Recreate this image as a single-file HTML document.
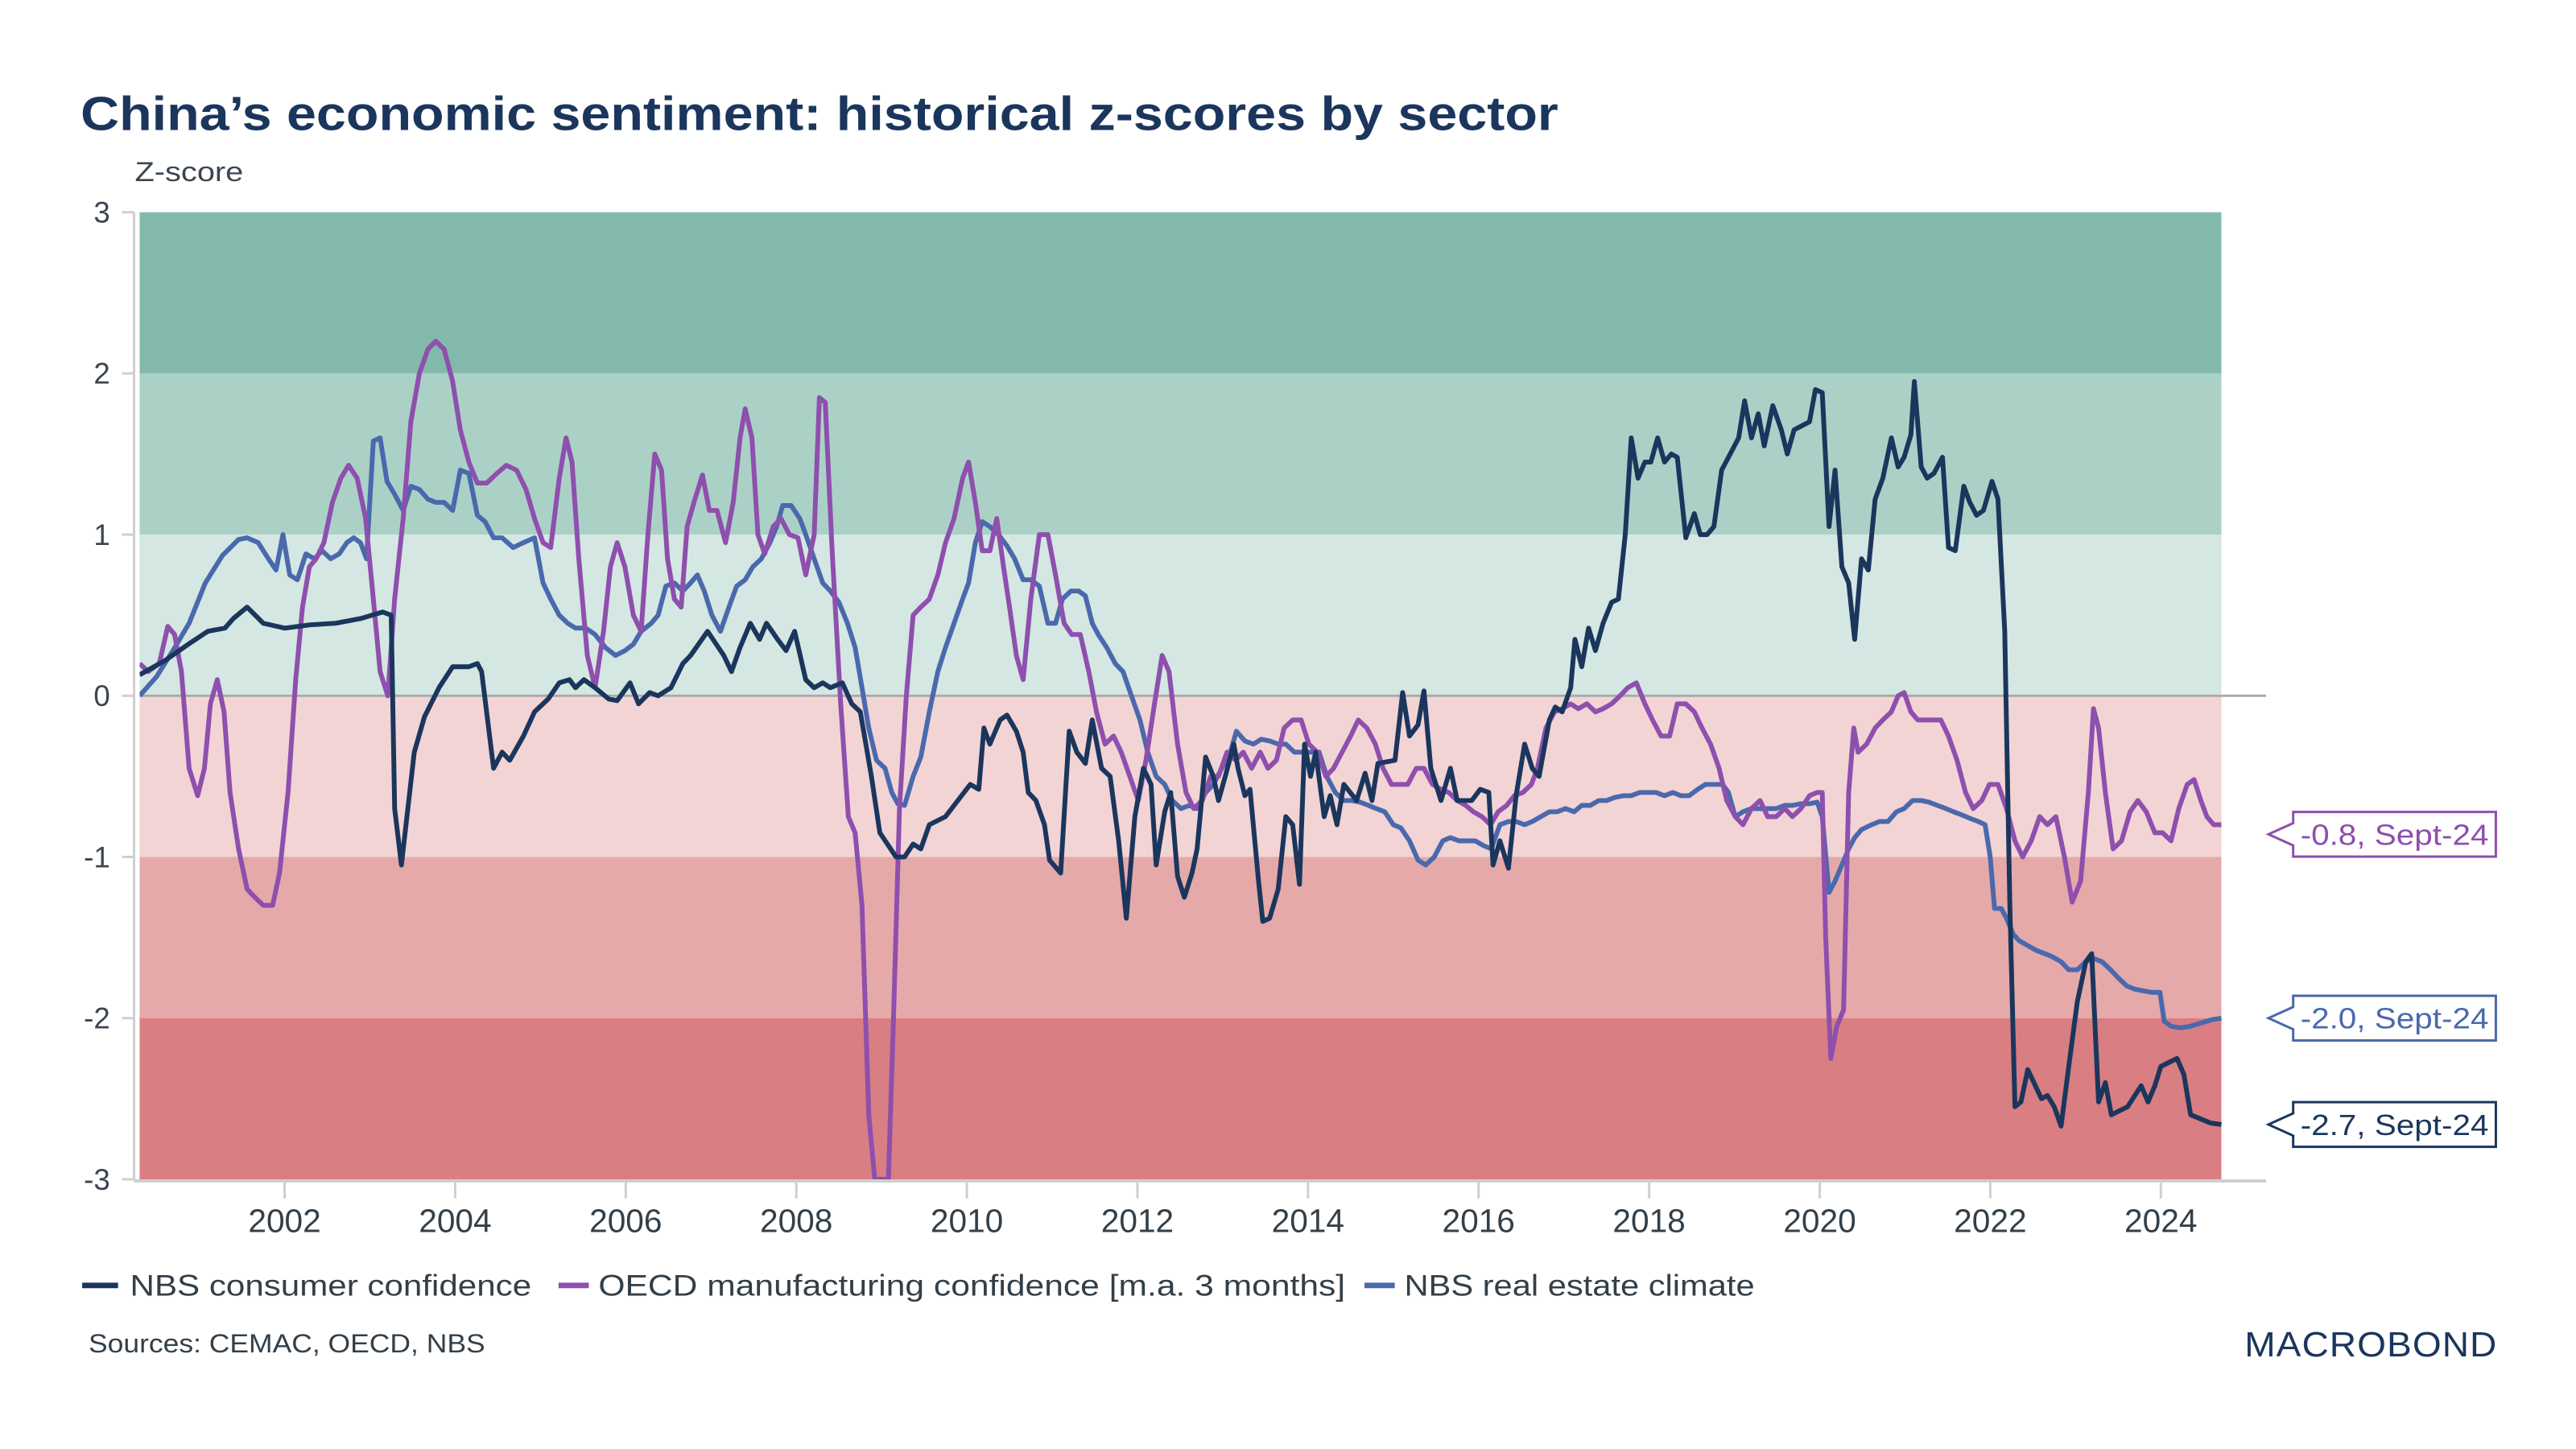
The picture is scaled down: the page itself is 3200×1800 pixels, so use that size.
<!DOCTYPE html>
<html><head><meta charset="utf-8"><style>
html,body{margin:0;padding:0;background:#fff;}
svg{display:block;font-family:"Liberation Sans",sans-serif;}
</style></head><body>
<svg id="chart" width="3200" height="1800" viewBox="0 0 3228 1816" preserveAspectRatio="xMinYMin meet" xmlns="http://www.w3.org/2000/svg">
<text x="101" y="163" font-size="60" font-weight="bold" fill="#1b365d" textLength="1852" lengthAdjust="spacingAndGlyphs">China’s economic sentiment: historical z-scores by sector</text>
<text x="169" y="227" font-size="35" fill="#3c4650" textLength="136" lengthAdjust="spacingAndGlyphs">Z-score</text>
<g id="bands"></g>
<g id="axes"></g>
<g id="series"></g>
<g id="callouts"></g>
<g>
<line x1="103" y1="1611" x2="148" y2="1611" stroke="#1b365d" stroke-width="7"/>
<text x="163" y="1624" font-size="37" fill="#333f48" textLength="503" lengthAdjust="spacingAndGlyphs">NBS consumer confidence</text>
<line x1="700" y1="1611" x2="738" y2="1611" stroke="#8e4fad" stroke-width="7"/>
<text x="750" y="1624" font-size="37" fill="#333f48" textLength="936" lengthAdjust="spacingAndGlyphs">OECD manufacturing confidence [m.a. 3 months]</text>
<line x1="1710" y1="1611" x2="1748" y2="1611" stroke="#4a69ad" stroke-width="7"/>
<text x="1760" y="1624" font-size="37" fill="#333f48" textLength="439" lengthAdjust="spacingAndGlyphs">NBS real estate climate</text>
</g>
<text x="111" y="1695" font-size="33" fill="#333f48" textLength="497" lengthAdjust="spacingAndGlyphs">Sources: CEMAC, OECD, NBS</text>
<g>
<text x="2813" y="1700" font-size="44" fill="#1b365d" textLength="317" lengthAdjust="spacingAndGlyphs" letter-spacing="1">MACROBOND</text>
</g>
</svg>
<script>
// ---- data ----
const bandEdges = [3, 2, 1, 0, -1, -2, -3];
const bandColors = ["#83b9ab", "#abd1c7", "#d4e7e2", "#f2d4d5", "#e5a9aa", "#d97e82"];
const yTicks = [3, 2, 1, 0, -1, -2, -3];
const yTickLabels = ["3", "2", "1", "0", "-1", "-2", "-3"];
const xTicks = [2002, 2004, 2006, 2008, 2010, 2012, 2014, 2016, 2018, 2020, 2022, 2024];
const xTickLabels = ["2002","2004","2006","2008","2010","2012","2014","2016","2018","2020","2022","2024"];

const consumerDates = [2000.30,2000.6,2000.9,2001.1,2001.3,2001.4,2001.56,2001.75,2002.0,2002.3,2002.6,2002.9,2003.15,2003.25,2003.29,2003.37,2003.52,2003.64,2003.81,2003.97,2004.16,2004.26,2004.31,2004.45,2004.55,2004.64,2004.8,2004.93,2005.09,2005.22,2005.34,2005.41,2005.51,2005.64,2005.8,2005.9,2006.05,2006.15,2006.28,2006.38,2006.53,2006.67,2006.76,2006.96,2007.15,2007.24,2007.34,2007.46,2007.57,2007.65,2007.78,2007.88,2007.98,2008.11,2008.21,2008.31,2008.4,2008.54,2008.65,2008.75,2008.88,2008.98,2009.17,2009.27,2009.37,2009.46,2009.56,2009.75,2009.85,2010.04,2010.14,2010.2,2010.27,2010.39,2010.47,2010.58,2010.66,2010.72,2010.81,2010.91,2010.97,2011.1,2011.2,2011.29,2011.39,2011.47,2011.58,2011.68,2011.78,2011.87,2011.97,2012.07,2012.16,2012.22,2012.32,2012.39,2012.47,2012.55,2012.64,2012.7,2012.8,2012.89,2012.95,2013.03,2013.13,2013.18,2013.26,2013.32,2013.42,2013.47,2013.55,2013.65,2013.74,2013.82,2013.9,2013.96,2014.03,2014.09,2014.19,2014.26,2014.34,2014.42,2014.57,2014.67,2014.75,2014.82,2015.02,2015.11,2015.19,2015.29,2015.36,2015.44,2015.56,2015.67,2015.75,2015.92,2016.02,2016.12,2016.17,2016.25,2016.35,2016.44,2016.54,2016.63,2016.71,2016.83,2016.9,2016.98,2017.08,2017.13,2017.21,2017.29,2017.37,2017.46,2017.56,2017.64,2017.72,2017.79,2017.87,2017.95,2018.02,2018.1,2018.18,2018.26,2018.33,2018.43,2018.53,2018.6,2018.68,2018.76,2018.85,2018.95,2019.05,2019.12,2019.2,2019.28,2019.35,2019.45,2019.55,2019.62,2019.7,2019.88,2019.95,2020.03,2020.11,2020.18,2020.26,2020.34,2020.41,2020.49,2020.57,2020.65,2020.74,2020.84,2020.92,2020.99,2021.07,2021.11,2021.19,2021.26,2021.34,2021.44,2021.51,2021.59,2021.69,2021.76,2021.84,2021.92,2022.02,2022.09,2022.17,2022.23,2022.29,2022.36,2022.44,2022.6,2022.67,2022.75,2022.83,2022.92,2023.02,2023.12,2023.19,2023.27,2023.35,2023.42,2023.61,2023.77,2023.85,2023.93,2024.0,2024.19,2024.27,2024.35,2024.58,2024.71];
const consumerValues = [0.13,0.22,0.33,0.4,0.42,0.48,0.55,0.45,0.42,0.44,0.45,0.48,0.52,0.5,-0.7,-1.05,-0.35,-0.13,0.05,0.18,0.18,0.2,0.15,-0.45,-0.35,-0.4,-0.25,-0.1,-0.02,0.08,0.1,0.05,0.1,0.05,-0.02,-0.03,0.08,-0.05,0.02,0,0.05,0.2,0.25,0.4,0.25,0.15,0.3,0.45,0.35,0.45,0.35,0.28,0.4,0.1,0.05,0.08,0.05,0.08,-0.05,-0.1,-0.5,-0.85,-1.0,-1.0,-0.92,-0.95,-0.8,-0.75,-0.68,-0.55,-0.58,-0.2,-0.3,-0.15,-0.12,-0.22,-0.35,-0.6,-0.65,-0.8,-1.02,-1.1,-0.22,-0.35,-0.42,-0.15,-0.45,-0.5,-0.9,-1.38,-0.75,-0.45,-0.55,-1.05,-0.72,-0.6,-1.12,-1.25,-1.1,-0.95,-0.38,-0.5,-0.65,-0.5,-0.3,-0.45,-0.62,-0.58,-1.15,-1.4,-1.38,-1.2,-0.75,-0.8,-1.17,-0.3,-0.5,-0.35,-0.75,-0.62,-0.8,-0.55,-0.65,-0.48,-0.65,-0.42,-0.4,0.02,-0.25,-0.18,0.03,-0.45,-0.65,-0.45,-0.65,-0.65,-0.58,-0.6,-1.05,-0.9,-1.07,-0.62,-0.3,-0.45,-0.5,-0.15,-0.07,-0.1,0.05,0.35,0.18,0.42,0.28,0.45,0.58,0.6,1.0,1.6,1.35,1.45,1.45,1.6,1.45,1.5,1.48,0.98,1.13,1.0,1.0,1.05,1.4,1.5,1.6,1.83,1.6,1.75,1.55,1.8,1.65,1.5,1.65,1.7,1.9,1.88,1.05,1.4,0.8,0.7,0.35,0.85,0.78,1.22,1.35,1.6,1.42,1.48,1.62,1.95,1.42,1.35,1.38,1.48,0.92,0.9,1.3,1.2,1.12,1.15,1.33,1.22,0.4,-1.3,-2.55,-2.52,-2.32,-2.5,-2.48,-2.55,-2.67,-2.3,-1.9,-1.65,-1.6,-2.52,-2.4,-2.6,-2.55,-2.42,-2.52,-2.42,-2.3,-2.25,-2.35,-2.6,-2.65,-2.66];

const oecdDates = [2000.3,2000.4,2000.53,2000.63,2000.71,2000.79,2000.88,2000.98,2001.06,2001.13,2001.21,2001.29,2001.36,2001.46,2001.56,2001.65,2001.75,2001.86,2001.94,2002.04,2002.13,2002.21,2002.29,2002.37,2002.46,2002.56,2002.66,2002.75,2002.85,2002.95,2003.04,2003.12,2003.21,2003.29,2003.39,2003.48,2003.58,2003.68,2003.77,2003.87,2003.97,2004.06,2004.16,2004.26,2004.37,2004.49,2004.6,2004.72,2004.83,2004.93,2005.03,2005.12,2005.22,2005.3,2005.37,2005.45,2005.55,2005.64,2005.74,2005.82,2005.9,2005.99,2006.09,2006.18,2006.26,2006.34,2006.42,2006.49,2006.57,2006.65,2006.72,2006.8,2006.9,2006.98,2007.07,2007.17,2007.26,2007.34,2007.4,2007.48,2007.55,2007.63,2007.73,2007.82,2007.92,2008.02,2008.11,2008.21,2008.27,2008.34,2008.42,2008.52,2008.61,2008.69,2008.77,2008.85,2008.92,2009.02,2009.08,2009.14,2009.21,2009.29,2009.37,2009.46,2009.56,2009.66,2009.75,2009.85,2009.95,2010.02,2010.1,2010.18,2010.27,2010.35,2010.43,2010.5,2010.58,2010.66,2010.75,2010.85,2010.95,2011.04,2011.14,2011.23,2011.33,2011.43,2011.52,2011.62,2011.72,2011.81,2011.91,2012.01,2012.1,2012.2,2012.29,2012.37,2012.47,2012.57,2012.66,2012.76,2012.86,2012.95,2013.05,2013.15,2013.24,2013.34,2013.44,2013.53,2013.63,2013.72,2013.82,2013.92,2014.01,2014.11,2014.21,2014.3,2014.4,2014.5,2014.59,2014.69,2014.79,2014.88,2014.98,2015.07,2015.17,2015.27,2015.36,2015.46,2015.56,2015.65,2015.75,2015.85,2015.94,2016.04,2016.14,2016.23,2016.33,2016.42,2016.52,2016.62,2016.69,2016.79,2016.89,2016.98,2017.08,2017.17,2017.27,2017.37,2017.46,2017.56,2017.66,2017.75,2017.85,2017.95,2018.04,2018.14,2018.24,2018.33,2018.43,2018.53,2018.62,2018.72,2018.82,2018.91,2019.01,2019.1,2019.2,2019.3,2019.39,2019.49,2019.59,2019.68,2019.78,2019.88,2019.97,2020.03,2020.07,2020.13,2020.2,2020.28,2020.34,2020.4,2020.45,2020.55,2020.65,2020.74,2020.84,2020.92,2020.99,2021.07,2021.15,2021.22,2021.32,2021.42,2021.51,2021.61,2021.71,2021.8,2021.9,2021.99,2022.09,2022.19,2022.29,2022.38,2022.48,2022.58,2022.67,2022.77,2022.87,2022.96,2023.06,2023.15,2023.21,2023.27,2023.35,2023.44,2023.54,2023.64,2023.73,2023.83,2023.93,2024.02,2024.12,2024.21,2024.31,2024.39,2024.47,2024.54,2024.62,2024.71];
const oecdValues = [0.2,0.15,0.2,0.43,0.38,0.15,-0.45,-0.62,-0.45,-0.05,0.1,-0.1,-0.6,-0.95,-1.2,-1.25,-1.3,-1.3,-1.1,-0.6,0.1,0.55,0.8,0.85,0.95,1.2,1.35,1.43,1.35,1.1,0.6,0.15,0,0.6,1.1,1.7,2.0,2.15,2.2,2.15,1.95,1.65,1.45,1.32,1.32,1.38,1.43,1.4,1.28,1.1,0.95,0.92,1.35,1.6,1.45,0.85,0.25,0.05,0.4,0.8,0.95,0.8,0.5,0.4,1.0,1.5,1.4,0.85,0.6,0.55,1.05,1.2,1.37,1.15,1.15,0.95,1.2,1.6,1.78,1.6,1.0,0.88,1.05,1.1,1.0,0.98,0.75,1.0,1.85,1.82,0.9,-0.05,-0.75,-0.85,-1.3,-2.6,-3.0,-3.0,-3.0,-2.0,-0.7,0.0,0.5,0.55,0.6,0.75,0.95,1.1,1.35,1.45,1.2,0.9,0.9,1.1,0.8,0.55,0.25,0.1,0.6,1.0,1.0,0.75,0.45,0.38,0.38,0.15,-0.1,-0.3,-0.25,-0.35,-0.5,-0.65,-0.4,-0.05,0.25,0.15,-0.3,-0.6,-0.7,-0.65,-0.5,-0.5,-0.35,-0.4,-0.35,-0.45,-0.35,-0.45,-0.4,-0.2,-0.15,-0.15,-0.3,-0.35,-0.5,-0.45,-0.35,-0.25,-0.15,-0.2,-0.3,-0.45,-0.55,-0.55,-0.55,-0.45,-0.45,-0.55,-0.58,-0.6,-0.65,-0.68,-0.72,-0.75,-0.8,-0.72,-0.68,-0.62,-0.6,-0.55,-0.45,-0.2,-0.1,-0.08,-0.05,-0.08,-0.05,-0.1,-0.08,-0.05,0.0,0.05,0.08,-0.05,-0.15,-0.25,-0.25,-0.05,-0.05,-0.1,-0.2,-0.3,-0.45,-0.65,-0.75,-0.8,-0.7,-0.65,-0.75,-0.75,-0.7,-0.75,-0.7,-0.62,-0.6,-0.6,-1.5,-2.25,-2.05,-1.95,-0.6,-0.2,-0.35,-0.3,-0.2,-0.15,-0.1,0.0,0.02,-0.1,-0.15,-0.15,-0.15,-0.15,-0.25,-0.4,-0.6,-0.7,-0.65,-0.55,-0.55,-0.7,-0.9,-1.0,-0.9,-0.75,-0.8,-0.75,-1.0,-1.28,-1.15,-0.6,-0.08,-0.2,-0.6,-0.95,-0.9,-0.72,-0.65,-0.72,-0.85,-0.85,-0.9,-0.7,-0.55,-0.52,-0.65,-0.75,-0.8,-0.8];

const estateDates = [2000.3,2000.5,2000.69,2000.88,2001.07,2001.27,2001.46,2001.56,2001.69,2001.81,2001.9,2001.98,2002.06,2002.15,2002.25,2002.35,2002.44,2002.54,2002.64,2002.73,2002.81,2002.89,2002.96,2003.04,2003.12,2003.2,2003.29,2003.39,2003.48,2003.58,2003.68,2003.77,2003.87,2003.97,2004.06,2004.16,2004.26,2004.35,2004.45,2004.55,2004.68,2004.8,2004.93,2005.03,2005.12,2005.22,2005.32,2005.41,2005.53,2005.64,2005.76,2005.88,2005.99,2006.09,2006.18,2006.3,2006.38,2006.47,2006.57,2006.67,2006.76,2006.84,2006.92,2007.01,2007.11,2007.21,2007.3,2007.4,2007.49,2007.59,2007.69,2007.77,2007.84,2007.94,2008.04,2008.11,2008.21,2008.31,2008.4,2008.5,2008.6,2008.69,2008.77,2008.85,2008.94,2009.04,2009.12,2009.19,2009.27,2009.37,2009.46,2009.56,2009.66,2009.75,2009.85,2009.95,2010.02,2010.1,2010.18,2010.27,2010.37,2010.47,2010.56,2010.66,2010.75,2010.85,2010.95,2011.04,2011.12,2011.22,2011.31,2011.39,2011.47,2011.54,2011.64,2011.74,2011.83,2011.93,2012.03,2012.12,2012.22,2012.32,2012.41,2012.51,2012.61,2012.7,2012.8,2012.89,2012.99,2013.09,2013.16,2013.26,2013.36,2013.45,2013.55,2013.65,2013.74,2013.84,2013.93,2014.03,2014.13,2014.22,2014.32,2014.42,2014.51,2014.61,2014.71,2014.8,2014.9,2015.0,2015.09,2015.19,2015.29,2015.38,2015.48,2015.58,2015.67,2015.77,2015.86,2015.96,2016.06,2016.15,2016.25,2016.35,2016.44,2016.54,2016.63,2016.73,2016.83,2016.92,2017.02,2017.12,2017.21,2017.31,2017.41,2017.5,2017.6,2017.7,2017.79,2017.89,2017.99,2018.08,2018.18,2018.28,2018.37,2018.47,2018.57,2018.66,2018.76,2018.86,2018.93,2019.01,2019.1,2019.2,2019.3,2019.39,2019.49,2019.59,2019.68,2019.78,2019.88,2019.97,2020.03,2020.11,2020.18,2020.26,2020.34,2020.41,2020.49,2020.61,2020.7,2020.8,2020.9,2020.99,2021.09,2021.19,2021.28,2021.38,2021.48,2021.57,2021.67,2021.76,2021.86,2021.94,2022.0,2022.05,2022.13,2022.19,2022.27,2022.34,2022.44,2022.54,2022.64,2022.73,2022.83,2022.92,2023.02,2023.12,2023.21,2023.31,2023.41,2023.5,2023.6,2023.69,2023.79,2023.89,2023.99,2024.04,2024.12,2024.23,2024.35,2024.47,2024.6,2024.71];
const estateValues = [0.0,0.12,0.28,0.45,0.7,0.87,0.97,0.98,0.95,0.85,0.78,1.0,0.75,0.72,0.88,0.85,0.9,0.85,0.88,0.95,0.98,0.95,0.85,1.58,1.6,1.33,1.25,1.15,1.3,1.28,1.22,1.2,1.2,1.15,1.4,1.38,1.12,1.08,0.98,0.98,0.92,0.95,0.98,0.7,0.6,0.5,0.45,0.42,0.42,0.38,0.3,0.25,0.28,0.32,0.4,0.45,0.5,0.68,0.7,0.65,0.7,0.75,0.65,0.5,0.4,0.55,0.68,0.72,0.8,0.85,0.95,1.05,1.18,1.18,1.1,1.0,0.85,0.7,0.65,0.58,0.45,0.3,0.05,-0.2,-0.4,-0.45,-0.6,-0.67,-0.68,-0.5,-0.38,-0.1,0.15,0.3,0.45,0.6,0.7,0.95,1.08,1.05,1.0,0.93,0.85,0.72,0.72,0.68,0.45,0.45,0.6,0.65,0.65,0.62,0.45,0.38,0.3,0.2,0.15,0.0,-0.15,-0.35,-0.5,-0.55,-0.65,-0.7,-0.68,-0.7,-0.6,-0.55,-0.45,-0.35,-0.22,-0.28,-0.3,-0.27,-0.28,-0.3,-0.3,-0.35,-0.35,-0.35,-0.35,-0.5,-0.6,-0.65,-0.65,-0.66,-0.68,-0.7,-0.72,-0.8,-0.82,-0.9,-1.02,-1.05,-1.0,-0.9,-0.88,-0.9,-0.9,-0.9,-0.93,-0.95,-0.8,-0.78,-0.78,-0.8,-0.78,-0.75,-0.72,-0.72,-0.7,-0.72,-0.68,-0.68,-0.65,-0.65,-0.63,-0.62,-0.62,-0.6,-0.6,-0.6,-0.62,-0.6,-0.62,-0.62,-0.58,-0.55,-0.55,-0.55,-0.6,-0.75,-0.72,-0.7,-0.7,-0.7,-0.7,-0.68,-0.68,-0.67,-0.67,-0.66,-0.75,-1.22,-1.15,-1.05,-0.95,-0.88,-0.83,-0.8,-0.78,-0.78,-0.72,-0.7,-0.65,-0.65,-0.66,-0.68,-0.7,-0.72,-0.74,-0.76,-0.78,-0.8,-1.0,-1.32,-1.32,-1.38,-1.48,-1.52,-1.55,-1.58,-1.6,-1.62,-1.65,-1.7,-1.7,-1.65,-1.63,-1.65,-1.7,-1.75,-1.8,-1.82,-1.83,-1.84,-1.84,-2.02,-2.05,-2.06,-2.05,-2.03,-2.01,-2.0];

const calloutLabels = ["-0.8, Sept-24", "-2.0, Sept-24", "-2.7, Sept-24"];

// ---- scales ----
const NS = "http://www.w3.org/2000/svg";
const X0 = 175, X1 = 2784, XMIN = 2000.3, XMAX = 2024.71;
const YTOP = 266, YBOT = 1478, VMAX = 3, VMIN = -3;
function xs(t){ return X0 + (t - XMIN) * (X1 - X0) / (XMAX - XMIN); }
function ys(v){ return YTOP + (VMAX - v) * (YBOT - YTOP) / (VMAX - VMIN); }
function mk(tag, attrs, parent){ const e = document.createElementNS(NS, tag); for (const k in attrs) e.setAttribute(k, attrs[k]); parent.appendChild(e); return e; }

// bands
const gB = document.getElementById("bands");
for (let i = 0; i < bandColors.length; i++) {
  const r = mk("rect", {x: X0, y: ys(bandEdges[i]), width: X1 - X0, height: ys(bandEdges[i+1]) - ys(bandEdges[i]), fill: bandColors[i]}, gB);
  
  
}

// axes
const gA = document.getElementById("axes");
const yAxis = mk("line", {x1: 168, y1: YTOP, x2: 168, y2: YBOT, stroke: "#cfcfcf", "stroke-width": 3}, gA);


for (let i = 0; i < yTicks.length; i++) {
  const tk = mk("line", {x1: 153, y1: ys(yTicks[i]), x2: 168, y2: ys(yTicks[i]), stroke: "#cfcfcf", "stroke-width": 3}, gA);
  
  
  const t = mk("text", {x: 138, y: ys(yTicks[i]) + 13, "font-size": 37, fill: "#3c4650", "text-anchor": "end"}, gA);
  t.textContent = yTickLabels[i];
  
  
}
const zl = mk("line", {x1: X0, y1: ys(0), x2: 2840, y2: ys(0), stroke: "#a9a9a9", "stroke-width": 3}, gA);


const xAxis = mk("line", {x1: 168, y1: YBOT + 2, x2: 2840, y2: YBOT + 2, stroke: "#cfcfcf", "stroke-width": 4}, gA);


for (let i = 0; i < xTicks.length; i++) {
  const xx = xs(xTicks[i]);
  const tk = mk("line", {x1: xx, y1: YBOT + 2, x2: xx, y2: YBOT + 24, stroke: "#cfcfcf", "stroke-width": 3}, gA);
  
  
  const t = mk("text", {x: xx, y: 1544, "font-size": 41, fill: "#333f48", "text-anchor": "middle"}, gA);
  t.textContent = xTickLabels[i];
  
  
}

// series
const gS = document.getElementById("series");
const defs = mk("defs", {}, gS);
const cp = mk("clipPath", {id: "plotclip"}, defs);
mk("rect", {x: X0, y: YTOP - 4, width: X1 - X0 + 4, height: YBOT - YTOP + 4}, cp);
function drawLine(dates, vals, color, name){
  let d = "";
  for (let i = 0; i < dates.length; i++) d += (i ? "L" : "M") + xs(dates[i]).toFixed(1) + "," + ys(vals[i]).toFixed(1);
  const p = mk("path", {d: d, fill: "none", stroke: color, "stroke-width": 6, "stroke-linejoin": "round", "clip-path": "url(#plotclip)"}, gS);
  
  
}
drawLine(estateDates, estateValues, "#4a69ad", "real-estate-climate-line");
drawLine(oecdDates, oecdValues, "#8e4fad", "oecd-manufacturing-line");
drawLine(consumerDates, consumerValues, "#1b365d", "consumer-confidence-line");

// callouts
const gC = document.getElementById("callouts");
const lastVals = [oecdValues[oecdValues.length-1], estateValues[estateValues.length-1], consumerValues[consumerValues.length-1]];
const calloutColors = ["#8e4fad", "#4a69ad", "#1b365d"];
const calloutNames = ["callout-oecd", "callout-realestate", "callout-consumer"];
for (let i = 0; i < 3; i++) {
  const cy = ys(lastVals[i]) + (i === 0 ? 12 : 0);
  const bx = 2874, bw = 254, bh = 56, top = cy - bh/2;
  const d = `M${bx},${top} L${bx+bw},${top} L${bx+bw},${top+bh} L${bx},${top+bh} L${bx},${cy+14} L2843,${cy} L${bx},${cy-14} Z`;
  const p = mk("path", {d: d, fill: "#fff", stroke: calloutColors[i], "stroke-width": 3}, gC);
  
  
  const t = mk("text", {x: 2883, y: cy + 13, "font-size": 36, fill: calloutColors[i], textLength: 236, lengthAdjust: "spacingAndGlyphs"}, gC);
  t.textContent = calloutLabels[i];
  
  
}
</script>
</body></html>
